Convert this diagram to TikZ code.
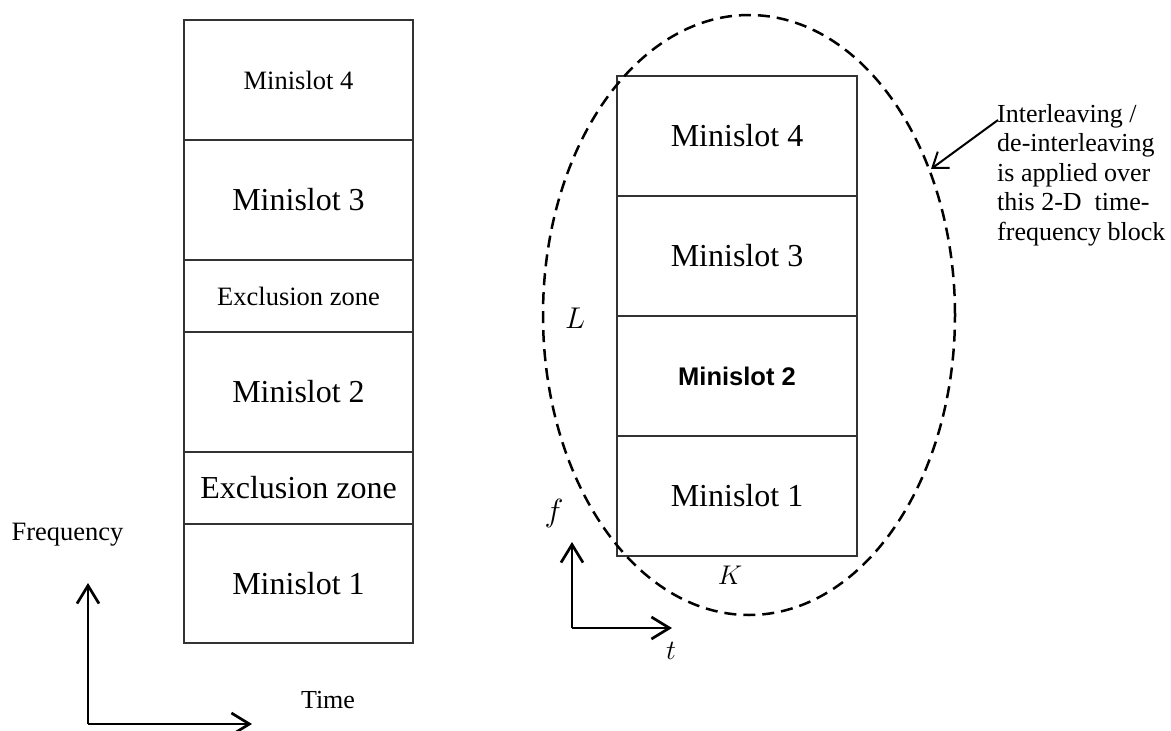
\RequirePackage{fix-cm}
\documentclass[tikz,border=0pt]{standalone}
\usepackage{fontspec}
\setmainfont{Liberation Serif}
\newfontfamily\arialfont{Liberation Sans}
\usetikzlibrary{arrows.meta,shapes.geometric}
\tikzset{
  slot/.style={draw=black!80, line width=1.3pt, rectangle, inner sep=0pt, minimum width=#1, font=\fontsize{32}{36}\selectfont},
  lslot/.style={slot=229pt, minimum height=120pt},
  rslot/.style={slot=240pt, minimum height=120pt},
  axisline/.style={line width=2.7pt, -{Straight Barb[length=18pt,width=22pt,line width=2.7pt]}},
  callout/.style={line width=2pt, -{Straight Barb[length=14pt,width=20pt,line width=2pt]}},
  blockoval/.style={draw, ellipse, line width=2.5pt, dash pattern=on 12pt off 7pt, inner sep=0pt, minimum width=412pt, minimum height=600pt},
  lbl/.style={inner sep=0pt, font=\fontsize{26.5}{30}\selectfont},
  mathlbl/.style={inner sep=0pt, font=\fontsize{30}{34}\selectfont}
}
\begin{document}
\begin{tikzpicture}[x=1pt,y=-1pt]
\useasboundingbox (0,0) rectangle (1171,731);
% left column
\node[lslot, font=\fontsize{26.5}{30}\selectfont] (l4) at (298.5,80) {Minislot 4};
\node[lslot] (l3) at (298.5,200) {Minislot 3};
\node[lslot, minimum height=72pt, font=\fontsize{26.5}{30}\selectfont] (le2) at (298.5,296) {Exclusion zone};
\node[lslot] (l2) at (298.5,392) {Minislot 2};
\node[lslot, minimum height=72pt] (le1) at (298.5,488) {Exclusion zone};
\node[lslot, minimum height=119pt] (l1) at (298.5,583.5) {Minislot 1};
% left axes
\coordinate (o1) at (88,724);
\coordinate (fy1) at (88,583);
\coordinate (tx1) at (252,724);
\draw[axisline] (o1) -- (fy1);
\draw[axisline] (o1) -- (tx1);
\node[lbl] (freq) at (67.5,535) {Frequency};
\node[lbl, font=\fontsize{26}{30}\selectfont] (time) at (328,700) {Time};
% right column
\node[rslot] (r4) at (737,136) {Minislot 4};
\node[rslot] (r3) at (737,256) {Minislot 3};
\node[rslot, font=\fontsize{25.5}{30}\arialfont\bfseries] (r2) at (737,376) {Minislot 2};
\node[rslot] (r1) at (737,496) {Minislot 1};
% oval
\node[blockoval] (oval) at (749,315) {};
% right axes
\coordinate (o2) at (572,628);
\coordinate (fy2) at (572,542);
\coordinate (tx2) at (672,628);
\draw[axisline] (o2) -- (fy2);
\draw[axisline] (o2) -- (tx2);
\node[mathlbl, font=\fontsize{32}{36}\selectfont] (fl) at (554,513) {$f$};
\node[mathlbl, font=\fontsize{28}{30}\selectfont] (tl) at (671,651) {$t$};
\node[mathlbl, font=\fontsize{27}{30}\selectfont] (kl) at (730,575) {$K$};
\node[mathlbl] (ll) at (575,318) {$L$};
% annotation
\node[inner sep=0pt, anchor=north west, align=left, font=\fontsize{26}{29.5}\selectfont] (note) at (997,104)
  {Interleaving /\\de-interleaving\\is applied over\\this 2-D\ \ time-\\frequency block};
\coordinate (tail) at (998,120);
\coordinate (head) at (931,169);
\draw[callout] (tail) -- (head);
\end{tikzpicture}
\end{document}
